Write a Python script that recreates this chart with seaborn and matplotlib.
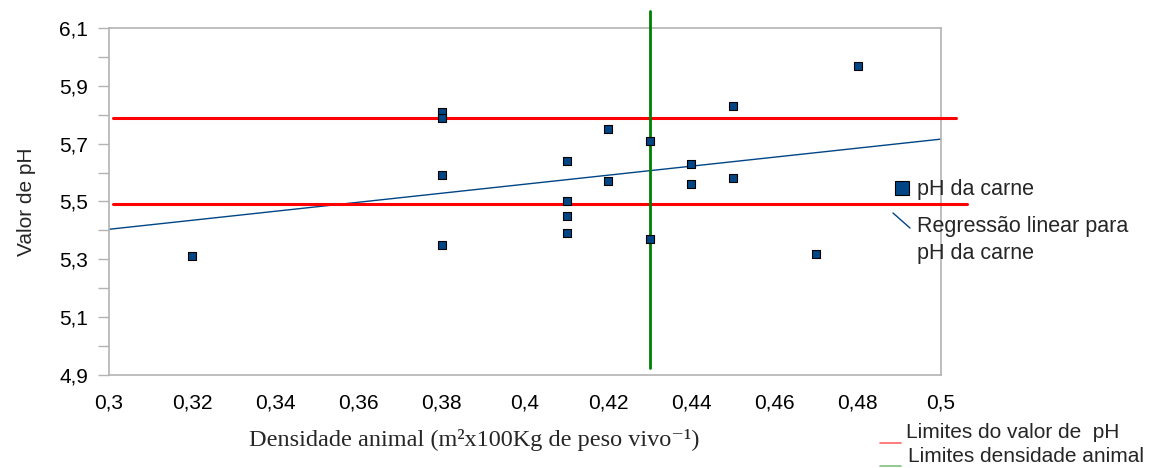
import matplotlib
matplotlib.use('Agg')

import matplotlib.pyplot as plt
from matplotlib.lines import Line2D
import seaborn as sns
import pandas as pd

# data
densidade = [0.32, 0.38, 0.38, 0.38, 0.38, 0.41, 0.41, 0.41, 0.41,
             0.42, 0.42, 0.43, 0.43, 0.44, 0.44, 0.45, 0.45, 0.47, 0.48]
ph_carne = [5.31, 5.81, 5.79, 5.59, 5.35, 5.64, 5.50, 5.45, 5.39,
            5.75, 5.57, 5.71, 5.37, 5.63, 5.56, 5.83, 5.58, 5.32, 5.97]
limites_ph = [5.49, 5.79]
limite_densidade = [0.43]

x_ticks = [0.30, 0.32, 0.34, 0.36, 0.38, 0.40, 0.42, 0.44, 0.46, 0.48, 0.50]
x_tick_labels = ["0,3", "0,32", "0,34", "0,36", "0,38", "0,4", "0,42", "0,44", "0,46", "0,48", "0,5"]
y_ticks = [4.9, 5.1, 5.3, 5.5, 5.7, 5.9, 6.1]
y_tick_labels = ["4,9", "5,1", "5,3", "5,5", "5,7", "5,9", "6,1"]
y_minor = [5.0, 5.2, 5.4, 5.6, 5.8, 6.0]

df = pd.DataFrame({"densidade": densidade, "ph": ph_carne})

sns.set_theme(style="white")
plt.rcParams['font.family'] = ['Liberation Sans', 'DejaVu Sans']

BLUE = "#004586"
GREY = "#b3b3b3"

fig = plt.figure(figsize=(11.51, 4.68), dpi=100)
ax = fig.add_axes([0.0947, 0.1987, 0.7229, 0.7415])
ax.set_xlim(0.3, 0.5)
ax.set_ylim(4.9, 6.1)

# regression line across the full x range
sns.regplot(data=df, x="densidade", y="ph", ax=ax, scatter=False, ci=None,
            truncate=False, line_kws=dict(color=BLUE, lw=1.0))

sns.scatterplot(data=df, x="densidade", y="ph", ax=ax, marker="s", s=36,
                color=BLUE, edgecolor="black", linewidth=0.8, zorder=4)

# limit lines (run slightly past the frame like the original)
ax.plot([0.301, 0.5036], [limites_ph[1]] * 2, color="#ff0000", lw=2.2, clip_on=False, zorder=3)
ax.plot([0.301, 0.5063], [limites_ph[0]] * 2, color="#ff0000", lw=2.2, clip_on=False, zorder=3)
ax.plot(limite_densidade * 2, [4.925, 6.159], color="#008000", lw=2.0, clip_on=False, zorder=3)

ax.set_xlim(0.3, 0.5)
ax.set_ylim(4.9, 6.1)
ax.set_xticks(x_ticks)
ax.set_xticklabels(x_tick_labels)
ax.set_yticks(y_ticks)
ax.set_yticklabels(y_tick_labels)
ax.set_yticks(y_minor, minor=True)
ax.tick_params(axis="both", which="both", direction="out", color=GREY,
               labelsize=15, labelcolor="black")
ax.tick_params(axis="x", length=8.5, width=1, pad=5)
ax.tick_params(axis="y", which="both", length=8, width=1, pad=7, left=True)

for sp in ax.spines.values():
    sp.set_color(GREY)
    sp.set_linewidth(1.2)

ax.set_xlabel("")
ax.set_ylabel("Valor de pH", fontsize=15, labelpad=17)

fig.text(0.412, 1 - 440 / 468, "Densidade animal (m²x100Kg de peso vivo⁻¹)",
         ha="center", va="center", fontsize=17.5,
         family=["Liberation Serif", "DejaVu Serif"])

# hand-made legend on the right
W, H = 1151.0, 468.0
fig.add_artist(Line2D([902 / W], [1 - 188 / H], marker="s", markersize=10,
                      markerfacecolor=BLUE, markeredgecolor="black",
                      markeredgewidth=0.8, transform=fig.transFigure))
fig.text(917 / W, 1 - 190 / H, "pH da carne", fontsize=15.5, va="center")
fig.add_artist(Line2D([893 / W, 910 / W], [1 - 213 / H, 1 - 228 / H],
                      color=BLUE, lw=1.0, transform=fig.transFigure))
fig.text(917 / W, 1 - 226 / H, "Regressão linear para", fontsize=15.5, va="center")
fig.text(917 / W, 1 - 253 / H, "pH da carne", fontsize=15.5, va="center")

fig.add_artist(Line2D([880 / W, 901 / W], [1 - 443 / H] * 2,
                      color="#ff6666", lw=1.2, transform=fig.transFigure))
fig.text(906 / W, 1 - 433 / H, "Limites do valor de  pH", fontsize=15, va="center")
fig.add_artist(Line2D([880 / W, 901 / W], [1 - 466 / H] * 2,
                      color="#80c080", lw=1.2, transform=fig.transFigure))
fig.text(908 / W, 1 - 456 / H, "Limites densidade animal", fontsize=15, va="center")

fig.savefig("out.png", dpi=100)
plt.close(fig)
